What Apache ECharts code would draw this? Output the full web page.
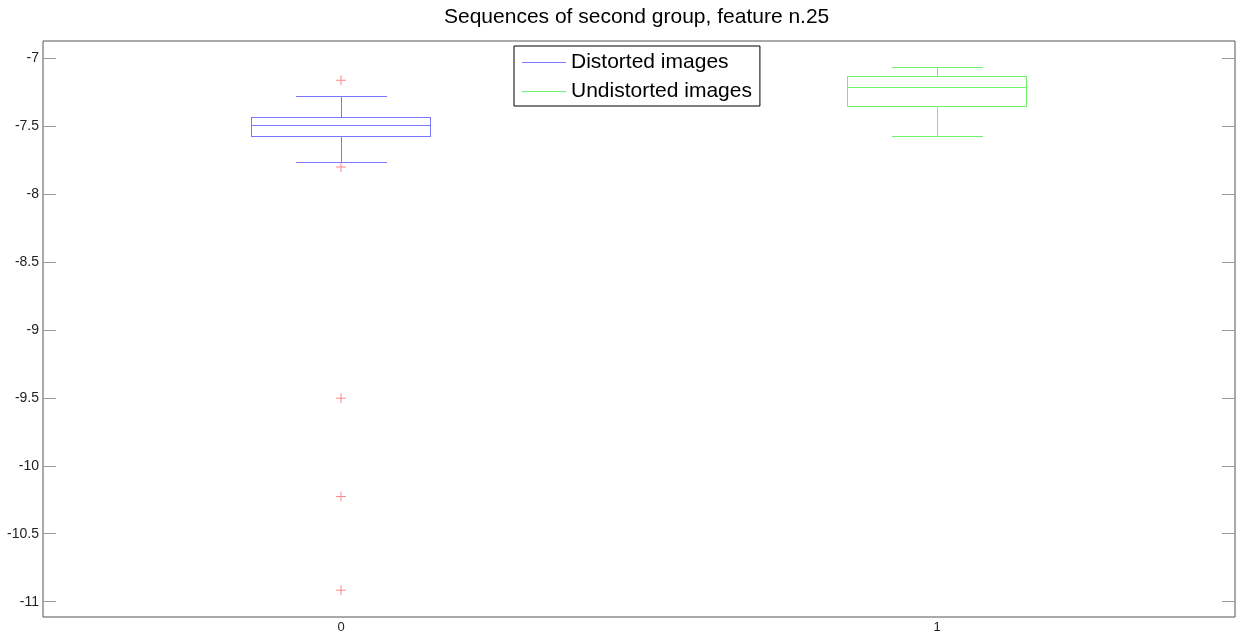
<!DOCTYPE html>
<html>
<head>
<meta charset="utf-8">
<script src="https://cdn.jsdelivr.net/npm/echarts@6/dist/echarts.min.js"></script>
<style>
  html, body { margin: 0; padding: 0; background: #fff; }
  #chart { width: 1239px; height: 639px; }
</style>
</head>
<body>
<div id="chart"></div>
<script>
// Groups along the x axis (positions 0 and 1)
const categories = ['0', '1'];
const seriesNames = ['Distorted images', 'Undistorted images'];
// Box statistics: [lower whisker, Q1, median, Q3, upper whisker]
const distortedStats = [-7.767, -7.574, -7.493, -7.436, -7.279];
const undistortedStats = [-7.571, -7.351, -7.215, -7.130, -7.064];
// Outliers of the distorted group
const distortedOutliers = [-7.162, -7.800, -9.502, -10.226, -10.917];
// Y axis tick values
const yTicks = [-11, -10.5, -10, -9.5, -9, -8.5, -8, -7.5, -7];

const BOX_WIDTH = 0.30;      // in x-axis units
const FONT = '"Liberation Sans", Arial, sans-serif';
const BLUE = '#7878ff';
const GREEN = '#6cf56c';

// Box-and-whisker glyph built from 1px filled bars so every stroke is pixel-sharp
function makeBoxRenderer(color) {
  return function (params, api) {
    const x = api.value(0);
    const w = Math.round(api.size([BOX_WIDTH, 0])[0]);
    const cap = Math.round(w / 2);
    const cx = Math.round(api.coord([x, 0])[0]);
    const yOf = (i) => Math.round(api.coord([x, api.value(i)])[1]);
    const yLow = yOf(1), yQ1 = yOf(2), yMed = yOf(3), yQ3 = yOf(4), yHigh = yOf(5);
    const left = cx - Math.round(w / 2);
    const bar = (bx, by, bw, bh) => ({
      type: 'rect', shape: { x: bx, y: by, width: bw, height: bh },
      style: { fill: color, stroke: 'none' }
    });
    return {
      type: 'group',
      children: [
        bar(left, yQ3, w + 1, 1),                 // box top
        bar(left, yQ1, w + 1, 1),                 // box bottom
        bar(left, yQ3, 1, yQ1 - yQ3 + 1),         // box left
        bar(left + w, yQ3, 1, yQ1 - yQ3 + 1),     // box right
        bar(left, yMed, w + 1, 1),                // median
        bar(cx, yHigh, 1, yQ3 - yHigh),           // upper whisker
        bar(cx, yQ1, 1, yLow - yQ1),              // lower whisker
        bar(cx - cap / 2, yHigh, cap + 1, 1),     // upper cap
        bar(cx - cap / 2, yLow, cap + 1, 1)       // lower cap
      ]
    };
  };
}

const chart = echarts.init(document.getElementById('chart'), null, { renderer: 'canvas' });

const yAxisCommon = {
  type: 'value',
  min: -11.113,
  max: -6.873,
  axisLine: { show: false, onZero: false },
  splitLine: { show: false },
  axisTick: {
    show: true, inside: true, length: 13, customValues: yTicks,
    lineStyle: { color: '#9a9a9a', width: 1 }
  }
};

chart.setOption({
  animation: false,
  backgroundColor: '#ffffff',
  title: {
    text: 'Sequences of second group, feature n.25',
    left: 444,
    top: 7,
    padding: 0,
    textStyle: { fontSize: 21, fontWeight: 'normal', color: '#000', fontFamily: FONT }
  },
  legend: {
    orient: 'vertical',
    left: 514,
    top: 46,
    padding: [6, 8, 4, 8],
    itemGap: 8,
    itemWidth: 44,
    itemHeight: 1,
    icon: 'rect',
    backgroundColor: '#fff',
    borderColor: '#000',
    borderWidth: 1,
    borderRadius: 0,
    selectedMode: false,
    textStyle: { fontSize: 21, color: '#000', fontFamily: FONT, lineHeight: 21 },
    data: [
      { name: seriesNames[0], itemStyle: { color: BLUE } },
      { name: seriesNames[1], itemStyle: { color: GREEN } }
    ]
  },
  grid: {
    left: 43, right: 4, top: 41, bottom: 22,
    show: true, borderColor: '#555', borderWidth: 1, backgroundColor: '#fff'
  },
  xAxis: {
    type: 'value',
    min: -0.5,
    max: 1.5,
    axisLine: { show: false, onZero: false },
    axisTick: { show: false },
    splitLine: { show: false },
    axisLabel: {
      customValues: [0, 1],
      formatter: (v) => categories[Math.round(v)],
      fontSize: 13, color: '#222', fontFamily: FONT, margin: 4
    }
  },
  yAxis: [
    Object.assign({}, yAxisCommon, {
      position: 'left',
      axisLabel: {
        customValues: yTicks,
        fontSize: 14, color: '#222', fontFamily: FONT, margin: 4
      }
    }),
    Object.assign({}, yAxisCommon, {
      position: 'right',
      axisLabel: { show: false }
    })
  ],
  series: [
    {
      name: seriesNames[0],
      type: 'custom',
      yAxisIndex: 0,
      itemStyle: { color: BLUE },
      encode: { x: 0, y: [1, 2, 3, 4, 5] },
      data: [[0].concat(distortedStats)],
      renderItem: makeBoxRenderer(BLUE),
      z: 3
    },
    {
      name: seriesNames[1],
      type: 'custom',
      yAxisIndex: 0,
      itemStyle: { color: GREEN },
      encode: { x: 0, y: [1, 2, 3, 4, 5] },
      data: [[1].concat(undistortedStats)],
      renderItem: makeBoxRenderer(GREEN),
      z: 3
    },
    {
      name: 'outliers',
      type: 'scatter',
      yAxisIndex: 0,
      symbol: 'path://M0,4.5H10V5.5H0Z M4.5,0H5.5V10H4.5Z',
      symbolSize: 10,
      itemStyle: { color: '#ff6a6a' },
      data: distortedOutliers.map((v) => [0, v]),
      z: 4
    }
  ]
});
</script>
</body>
</html>
